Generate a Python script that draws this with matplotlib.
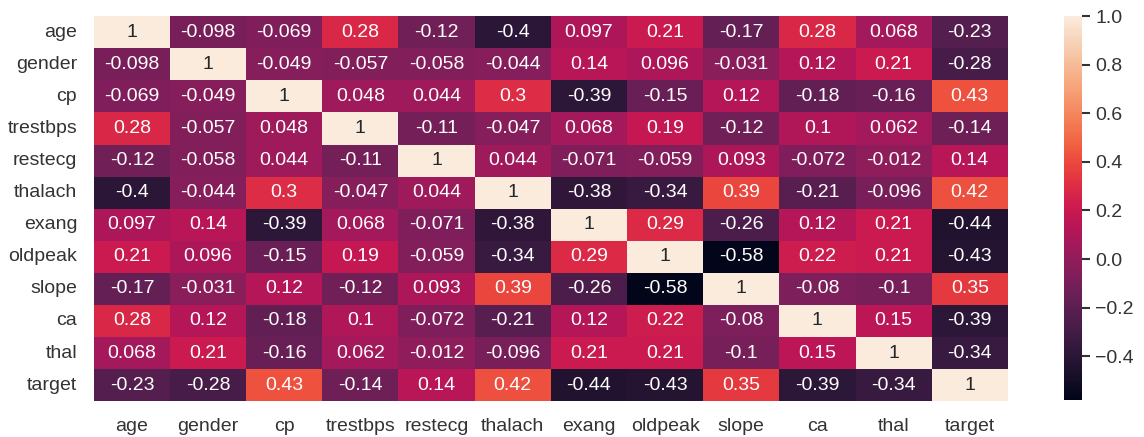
import numpy as np
import matplotlib.pyplot as plt
import seaborn as sns

sns.set_theme(style="white")
plt.rcParams['font.family'] = ['Liberation Sans', 'DejaVu Sans']

features = ["age", "gender", "cp", "trestbps", "restecg", "thalach",
            "exang", "oldpeak", "slope", "ca", "thal", "target"]

age      = [1, -0.098, -0.069, 0.28, -0.12, -0.4, 0.097, 0.21, -0.17, 0.28, 0.068, -0.23]
gender   = [-0.098, 1, -0.049, -0.057, -0.058, -0.044, 0.14, 0.096, -0.031, 0.12, 0.21, -0.28]
cp       = [-0.069, -0.049, 1, 0.048, 0.044, 0.3, -0.39, -0.15, 0.12, -0.18, -0.16, 0.43]
trestbps = [0.28, -0.057, 0.048, 1, -0.11, -0.047, 0.068, 0.19, -0.12, 0.1, 0.062, -0.14]
restecg  = [-0.12, -0.058, 0.044, -0.11, 1, 0.044, -0.071, -0.059, 0.093, -0.072, -0.012, 0.14]
thalach  = [-0.4, -0.044, 0.3, -0.047, 0.044, 1, -0.38, -0.34, 0.39, -0.21, -0.096, 0.42]
exang    = [0.097, 0.14, -0.39, 0.068, -0.071, -0.38, 1, 0.29, -0.26, 0.12, 0.21, -0.44]
oldpeak  = [0.21, 0.096, -0.15, 0.19, -0.059, -0.34, 0.29, 1, -0.58, 0.22, 0.21, -0.43]
slope    = [-0.17, -0.031, 0.12, -0.12, 0.093, 0.39, -0.26, -0.58, 1, -0.08, -0.1, 0.35]
ca       = [0.28, 0.12, -0.18, 0.1, -0.072, -0.21, 0.12, 0.22, -0.08, 1, 0.15, -0.39]
thal     = [0.068, 0.21, -0.16, 0.062, -0.012, -0.096, 0.21, 0.21, -0.1, 0.15, 1, -0.34]
target   = [-0.23, -0.28, 0.43, -0.14, 0.14, 0.42, -0.44, -0.43, 0.35, -0.39, -0.34, 1]

corr = np.array([age, gender, cp, trestbps, restecg, thalach,
                 exang, oldpeak, slope, ca, thal, target])

fig = plt.figure(figsize=(11.44, 4.37), dpi=100)
ax = fig.add_axes([0.082, 0.082, 0.799, 0.881])
cax = fig.add_axes([0.930, 0.085, 0.016, 0.878])

sns.heatmap(corr, annot=True, fmt=".2g", cmap="rocket", ax=ax, cbar_ax=cax,
            xticklabels=features, yticklabels=features,
            annot_kws={"size": 14})
ax.tick_params(length=0, labelsize=14, colors="#333333", pad=12)
plt.setp(ax.get_yticklabels(), rotation=0)
cax.tick_params(length=6, width=1.5, labelsize=14, colors="#333333")
cax.set_yticks([-0.4, -0.2, 0.0, 0.2, 0.4, 0.6, 0.8, 1.0])

fig.savefig("out.png", dpi=100)
